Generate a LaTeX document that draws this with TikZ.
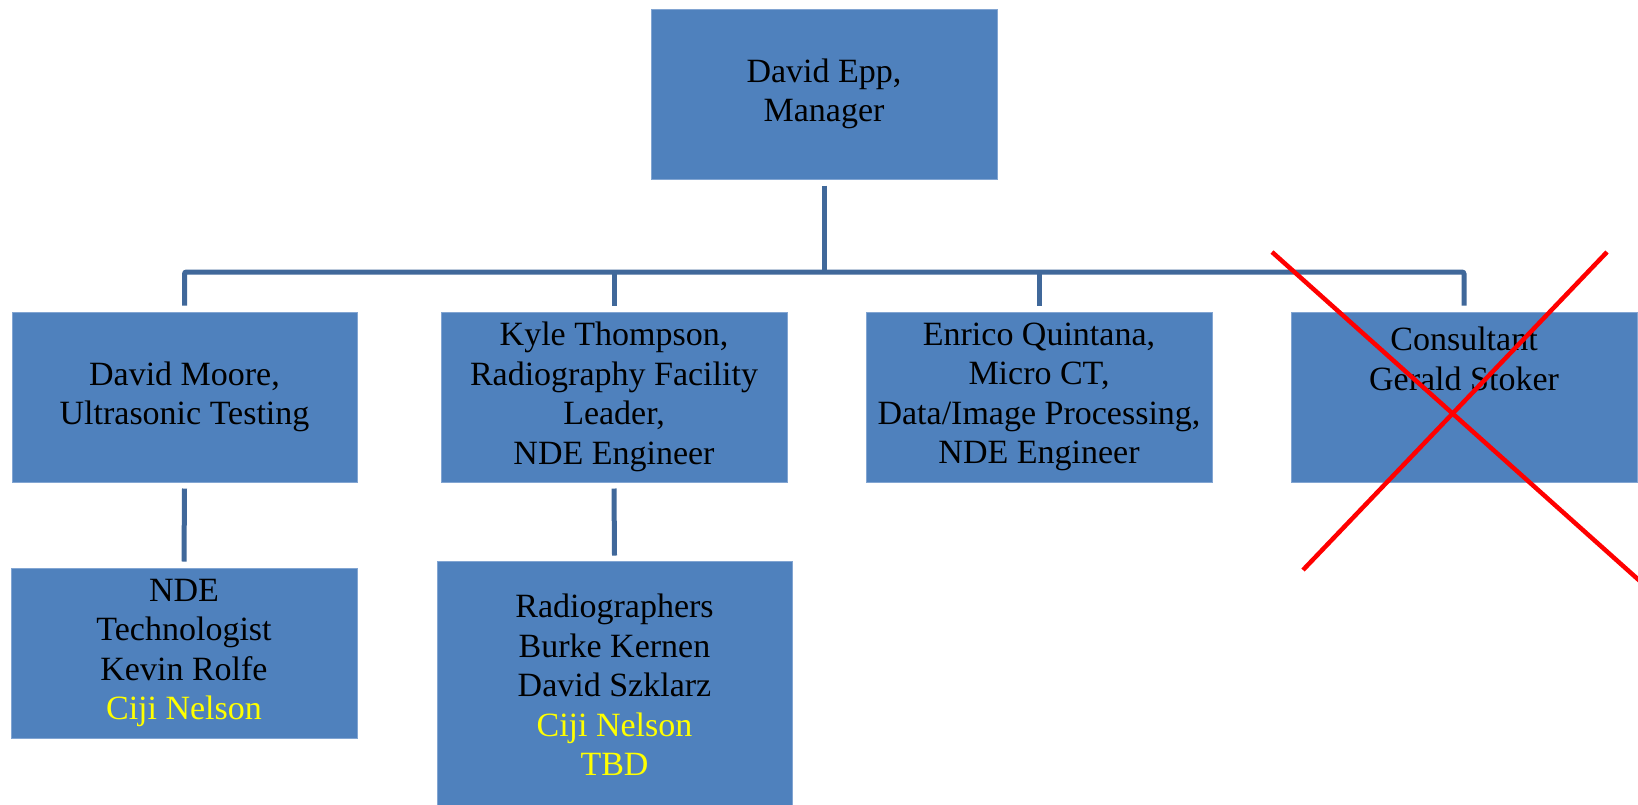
\documentclass[tikz,border=0pt]{standalone}
\usepackage{fontspec}
\setmainfont{Liberation Serif}
\definecolor{boxfill}{RGB}{79,129,189}
\definecolor{boxedge}{RGB}{130,165,210}
\definecolor{connc}{RGB}{64,104,154}
\definecolor{ylw}{RGB}{255,255,0}
\tikzset{
  box/.style={rectangle, fill=boxfill, draw=boxedge, line width=1pt, align=center,
    inner sep=0pt, minimum height=170pt, minimum width=346pt,
    font=\fontsize{34}{39.5}\selectfont, text=black},
  lbl/.style={align=center, inner sep=0pt, font=\fontsize{34}{39.5}\selectfont, text=black},
  conn/.style={draw=connc, line width=5pt, rounded corners=2pt},
  xline/.style={draw=red, line width=4.5pt}
}
\begin{document}
\begin{tikzpicture}[x=1pt,y=-1pt]
\useasboundingbox (0,0) rectangle (1638,804);
\fill[white] (0,0) rectangle (1638,804);
% boxes
\node[box] (top) at (824,94) {David Epp,\\Manager};
\node[box, minimum width=345pt] (moore) at (184.5,397) {David Moore,\\Ultrasonic Testing};
\node[box] (kyle) at (614,397) {Kyle Thompson,\\Radiography Facility\\Leader,\\NDE Engineer};
\node[box] (enrico) at (1039,397) {Enrico Quintana,\\Micro CT,\\Data/Image Processing,\\NDE Engineer};
\node[box] (cons) at (1464,397) {};
\node[lbl, anchor=north] (constext) at (1464,327) {Consultant\\Gerald Stoker};
\node[box] (nde) at (184,653) {NDE\\Technologist\\Kevin Rolfe\\\textcolor{ylw}{Ciji Nelson}};
\node[box, minimum width=355pt, minimum height=248pt] (radio) at (614.5,685)
  {Radiographers\\Burke Kernen\\David Szklarz\\\textcolor{ylw}{Ciji Nelson}\\\textcolor{ylw}{TBD}};
% connectors
\coordinate (bus) at (824,272);
\draw[conn] ([yshift=-6pt]top.south) -- (bus);
\draw[conn] ([yshift=6pt]moore.north) |- (bus) -| ([yshift=6pt]cons.north);
\draw[conn] ([yshift=6pt]kyle.north) -- (kyle.north |- bus);
\draw[conn] ([yshift=6pt]enrico.north) -- (enrico.north |- bus);
\draw[conn] ([yshift=-6pt]moore.south) -- ([yshift=6pt]nde.north);
\draw[conn] ([yshift=-6pt]kyle.south) -- ([yshift=5pt]radio.north);
% red cross
\coordinate (xa1) at (1272,252);
\coordinate (xa2) at (1660,599);
\coordinate (xb1) at (1607,252);
\coordinate (xb2) at (1303,570);
\draw[xline] (xa1) -- (xa2);
\draw[xline] (xb1) -- (xb2);
\end{tikzpicture}
\end{document}
